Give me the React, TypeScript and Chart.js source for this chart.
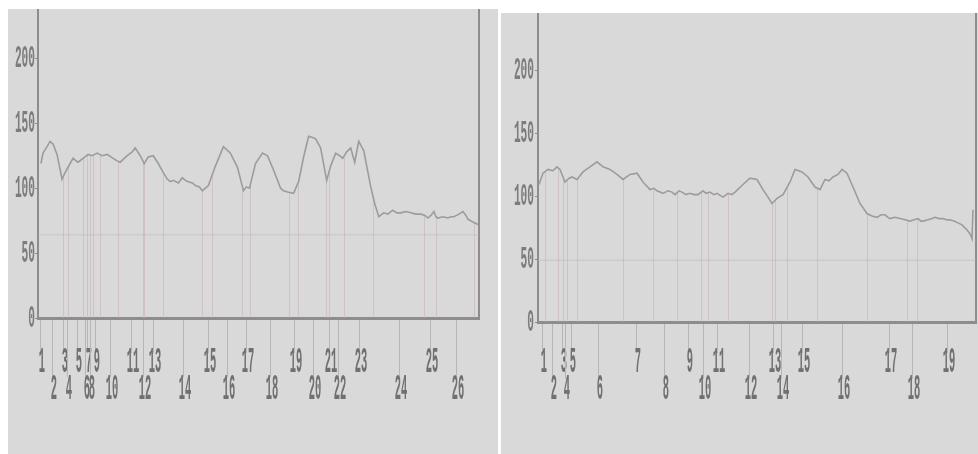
import React, { useEffect, useRef } from "react";
import { Chart, registerables } from "chart.js";

Chart.register(...registerables);

// ---------- Left panel data ----------
const leftCurveX = [3, 5, 9, 12, 15, 19, 24, 27, 32, 35, 38, 40, 45, 50, 54, 59, 64, 69, 75, 79, 82, 89, 94, 97, 102, 106, 110, 115, 120, 125, 129, 132, 135, 140, 144, 147, 150, 154, 157, 161, 164, 167, 170, 177, 185, 192, 199, 205, 208, 211, 217, 224, 229, 235, 238, 242, 245, 249, 255, 260, 265, 270, 274, 277, 282, 288, 292, 297, 301, 304, 308, 312, 316, 320, 325, 332, 336, 340, 345, 349, 354, 358, 362, 367, 372, 377, 382, 386, 389, 392, 395, 397, 399, 404, 409, 412, 415, 420, 424, 427, 429, 434, 439];
const leftCurveY = [119, 127, 132, 136, 134, 126, 107, 112, 119, 123, 121, 120, 123, 126, 125, 127, 125, 126, 123, 121, 120, 125, 128, 131, 125, 119, 124, 125, 119, 112, 107, 105, 106, 104, 108, 106, 105, 104, 102, 101, 98, 100, 102, 117, 132, 127, 116, 98, 101, 100, 119, 127, 125, 114, 108, 100, 98, 97, 96, 105, 124, 140, 139, 138, 131, 106, 117, 127, 125, 123, 128, 131, 120, 136, 129, 101, 88, 78, 81, 80, 83, 81, 81, 82, 81, 80, 80, 79, 77, 79, 82, 78, 77, 78, 77, 78, 78, 80, 82, 79, 76, 74, 72];
const leftMarkers = [2, 14, 25, 29, 39, 47, 49, 52, 57, 72, 93, 105, 115, 145, 170, 189, 208, 231, 255, 274, 290, 299, 320, 360, 391, 417];
const leftMarkerLabels = ["1", "2", "3", "4", "5", "6", "7", "8", "9", "10", "11", "12", "13", "14", "15", "16", "17", "18", "19", "20", "21", "22", "23", "24", "25", "26"];
const leftGuides = [25, 30, 45, 49, 52, 55, 62, 80, 105, 106, 125, 164, 174, 204, 212, 250, 259, 287, 290, 305, 334, 385, 397, 435];
const leftThreshold = 64;
const leftYMax = 238;
const leftXMax = 440;

// ---------- Right panel data ----------
const rightCurveX = [1, 5, 10, 15, 19, 22, 27, 31, 34, 39, 45, 52, 59, 65, 72, 79, 85, 92, 99, 105, 112, 116, 119, 125, 130, 134, 137, 141, 144, 148, 152, 156, 160, 165, 168, 172, 176, 179, 185, 190, 194, 197, 205, 212, 219, 225, 230, 234, 239, 245, 252, 257, 264, 270, 277, 282, 287, 291, 295, 300, 304, 309, 315, 322, 329, 334, 339, 343, 347, 350, 352, 357, 362, 367, 372, 376, 380, 383, 385, 390, 394, 397, 401, 405, 409, 412, 416, 419, 424, 429, 432, 434, 435];
const rightCurveY = [109, 118, 121, 120, 123, 121, 111, 114, 115, 113, 119, 123, 127, 123, 121, 117, 113, 117, 118, 111, 105, 106, 104, 102, 104, 103, 101, 104, 103, 101, 102, 101, 101, 104, 102, 103, 101, 102, 99, 102, 101, 103, 109, 114, 113, 105, 99, 94, 98, 101, 111, 121, 119, 115, 107, 105, 113, 112, 115, 117, 121, 118, 107, 94, 86, 84, 83, 85, 85, 83, 82, 83, 82, 81, 80, 81, 82, 80, 80, 81, 82, 83, 82, 82, 81, 81, 80, 79, 77, 73, 70, 66, 89];
const rightMarkers = [4, 14, 24, 27, 33, 60, 98, 126, 150, 165, 179, 211, 235, 243, 264, 304, 351, 374, 409];
const rightMarkerLabels = ["1", "2", "3", "4", "5", "6", "7", "8", "9", "10", "11", "12", "13", "14", "15", "16", "17", "18", "19"];
const rightGuides = [7, 20, 25, 29, 39, 85, 115, 139, 163, 170, 190, 234, 237, 249, 279, 329, 369, 379];
const rightThreshold = 49;
const rightYMax = 245;
const rightXMax = 438;

const yTickValues = [0, 50, 100, 150, 200];

const AXIS = "#8d8d8d";

function drawSquashed(ctx: CanvasRenderingContext2D, text: string, x: number, y: number, sx: number) {
  ctx.save();
  ctx.translate(x, y);
  ctx.scale(sx, 1);
  ctx.fillText(text, 0, 0);
  ctx.restore();
}

const decorPlugin = {
  id: "decor",
  beforeDatasetsDraw(chart: any, _args: any, opts: any) {
    const ctx: CanvasRenderingContext2D = chart.ctx;
    const xs = chart.scales.x;
    const ys = chart.scales.y;
    const base = ys.getPixelForValue(0);
    const pts = chart.getDatasetMeta(0).data.map((p: any) => ({ x: p.x, y: p.y }));
    ctx.save();
    ctx.strokeStyle = "rgba(196,172,180,0.5)";
    ctx.lineWidth = 1;
    for (const g of opts.guides as number[]) {
      const px = Math.round(xs.getPixelForValue(g)) + 0.5;
      let py = base;
      for (let i = 1; i < pts.length; i++) {
        if (pts[i].x >= px) {
          const a = pts[i - 1];
          const b = pts[i];
          const t = (px - a.x) / (b.x - a.x || 1);
          py = a.y + t * (b.y - a.y);
          break;
        }
      }
      ctx.beginPath();
      ctx.moveTo(px, base);
      ctx.lineTo(px, py);
      ctx.stroke();
    }
    ctx.restore();
  },
  afterDraw(chart: any, _args: any, opts: any) {
    const ctx: CanvasRenderingContext2D = chart.ctx;
    const xs = chart.scales.x;
    const ys = chart.scales.y;
    const base = ys.getPixelForValue(0);
    const left = chart.chartArea.left;
    ctx.save();
    // y tick labels
    ctx.fillStyle = "#7c7c7c";
    ctx.strokeStyle = AXIS;
    ctx.lineWidth = 1;
    ctx.font = "bold 31px 'Liberation Mono'";
    ctx.textAlign = "right";
    ctx.textBaseline = "middle";
    for (const v of yTickValues) {
      const py = ys.getPixelForValue(v);
      ctx.beginPath();
      ctx.moveTo(left - 3, Math.round(py) + 0.5);
      ctx.lineTo(left, Math.round(py) + 0.5);
      ctx.stroke();
      drawSquashed(ctx, String(v), left - opts.yLabelGap, py + 1, 0.36);
    }
    // x leader lines and labels
    const markers: number[] = opts.markers;
    const labels: string[] = opts.labels;
    ctx.strokeStyle = "#b6b6b6";
    ctx.fillStyle = "#707070";
    ctx.font = "bold 36px 'Liberation Mono'";
    ctx.textAlign = "center";
    for (let i = 0; i < markers.length; i++) {
      const px = Math.round(xs.getPixelForValue(markers[i])) + 0.5;
      const even = i % 2 === 1;
      ctx.beginPath();
      ctx.moveTo(px, base + 2);
      ctx.lineTo(px, base + (even ? opts.leadEven : opts.leadOdd));
      ctx.stroke();
      drawSquashed(ctx, labels[i], px + 1.5, base + (even ? opts.rowEven : opts.rowOdd), 0.29);
    }
    ctx.restore();
  },
};

type PanelCfg = {
  left: number;
  top: number;
  width: number;
  height: number;
  padLeft: number;
  padRight: number;
  padBottom: number;
  xMax: number;
  yMax: number;
  curveX: number[];
  curveY: number[];
  threshold: number;
  markers: number[];
  labels: string[];
  guides: number[];
  yLabelGap: number;
  rowOdd: number;
  rowEven: number;
  leadOdd: number;
  leadEven: number;
};

function Panel({ cfg }: { cfg: PanelCfg }) {
  const ref = useRef<HTMLCanvasElement>(null);
  useEffect(() => {
    const hidden = { display: false, drawTicks: false };
    const chart = new Chart(ref.current as HTMLCanvasElement, {
      type: "line",
      data: {
        datasets: [
          {
            data: cfg.curveX.map((x, i) => ({ x, y: cfg.curveY[i] })),
            borderColor: "#9c9c9c",
            borderWidth: 1.6,
            pointRadius: 0,
            tension: 0,
            order: 0,
          },
          {
            data: [
              { x: 0, y: cfg.threshold },
              { x: cfg.xMax, y: cfg.threshold },
            ],
            borderColor: "rgba(185,175,178,0.5)",
            borderWidth: 1,
            pointRadius: 0,
            order: 1,
          },
        ],
      },
      options: {
        animation: false,
        responsive: false,
        events: [],
        layout: { padding: { left: cfg.padLeft, right: cfg.padRight, top: 0, bottom: cfg.padBottom } },
        plugins: {
          legend: { display: false },
          tooltip: { enabled: false },
          decor: {
            markers: cfg.markers,
            labels: cfg.labels,
            guides: cfg.guides,
            yLabelGap: cfg.yLabelGap,
            rowOdd: cfg.rowOdd,
            rowEven: cfg.rowEven,
            leadOdd: cfg.leadOdd,
            leadEven: cfg.leadEven,
          },
        } as any,
        scales: {
          x: {
            type: "linear",
            min: 0,
            max: cfg.xMax,
            ticks: { display: false },
            grid: hidden,
            border: { display: true, color: AXIS, width: 3 },
          },
          y: {
            min: 0,
            max: cfg.yMax,
            ticks: { display: false },
            grid: hidden,
            border: { display: true, color: AXIS, width: 2 },
          },
          y2: {
            position: "right",
            min: 0,
            max: cfg.yMax,
            ticks: { display: false },
            grid: hidden,
            border: { display: true, color: AXIS, width: 2 },
          },
        },
      },
      plugins: [decorPlugin],
    });
    return () => chart.destroy();
  }, []);
  return (
    <canvas
      ref={ref}
      width={cfg.width}
      height={cfg.height}
      style={{
        position: "absolute",
        left: cfg.left,
        top: cfg.top,
        width: cfg.width,
        height: cfg.height,
        background: "#d9d9d9",
      }}
    />
  );
}

const leftCfg: PanelCfg = {
  left: 8,
  top: 9,
  width: 490,
  height: 445,
  padLeft: 30,
  padRight: 19,
  padBottom: 136,
  xMax: leftXMax,
  yMax: leftYMax,
  curveX: leftCurveX,
  curveY: leftCurveY,
  threshold: leftThreshold,
  markers: leftMarkers,
  labels: leftMarkerLabels,
  guides: leftGuides,
  yLabelGap: 3,
  rowOdd: 45,
  rowEven: 72,
  leadOdd: 35,
  leadEven: 59,
};

const rightCfg: PanelCfg = {
  left: 501,
  top: 13,
  width: 477,
  height: 441,
  padLeft: 37,
  padRight: 2,
  padBottom: 132,
  xMax: rightXMax,
  yMax: rightYMax,
  curveX: rightCurveX,
  curveY: rightCurveY,
  threshold: rightThreshold,
  markers: rightMarkers,
  labels: rightMarkerLabels,
  guides: rightGuides,
  yLabelGap: 4,
  rowOdd: 41,
  rowEven: 68,
  leadOdd: 31,
  leadEven: 57,
};

export default function App() {
  return (
    <div style={{ position: "fixed", left: 0, top: 0, width: 978, height: 454, background: "#ffffff", overflow: "hidden" }}>
      <Panel cfg={leftCfg} />
      <Panel cfg={rightCfg} />
    </div>
  );
}
